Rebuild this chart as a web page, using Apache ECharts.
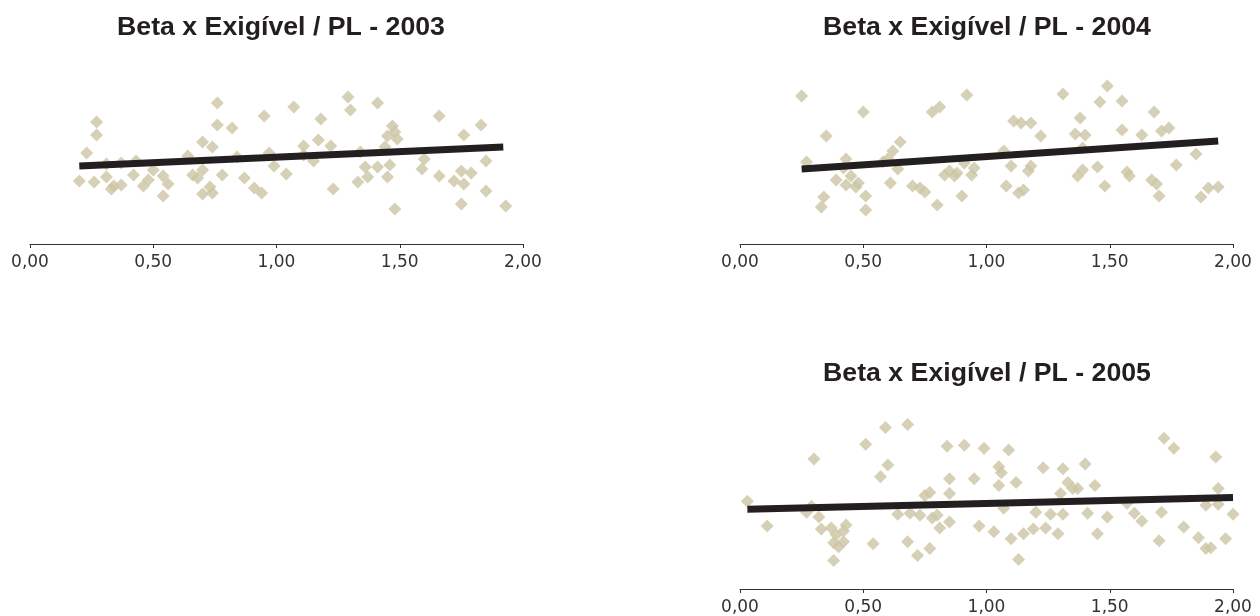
<!DOCTYPE html>
<html>
<head>
<meta charset="utf-8">
<script src="https://cdn.jsdelivr.net/npm/echarts@6/dist/echarts.min.js"></script>
<style>
html,body{margin:0;padding:0;background:#fff;}
#chart{width:1260px;height:616px;}
</style>
</head>
<body>
<div id="chart"></div>
<script>
// Tick labels of the x axis
const xTicks = [0, 0.5, 1, 1.5, 2];
const titles = ['Beta x Exigível / PL - 2003', 'Beta x Exigível / PL - 2004', 'Beta x Exigível / PL - 2005'];

// 2003: beta (x) and Exigível / PL (y, arbitrary units)
const beta2003 = [0.20,0.23,0.27,0.27,0.26,0.31,0.31,0.33,0.34,0.37,0.37,0.42,0.43,0.46,0.48,0.50,0.54,0.56,0.54,0.64,
  0.66,0.68,0.70,0.70,0.74,0.70,0.73,0.74,0.76,0.76,0.78,0.82,0.84,0.87,0.91,0.94,0.95,0.97,0.99,1.04,
  1.07,1.11,1.11,1.15,1.17,1.18,1.22,1.23,1.29,1.30,1.33,1.34,1.36,1.37,1.41,1.41,1.44,1.45,1.46,1.45,
  1.47,1.48,1.49,1.48,1.59,1.60,1.66,1.66,1.72,1.75,1.76,1.75,1.76,1.79,1.83,1.85,1.85,1.93];
const exig2003 = [6.3,9.1,12.2,10.9,6.2,8.0,6.7,5.5,5.8,5.9,8.1,6.9,8.3,5.8,6.4,7.4,6.8,6.0,4.8,8.8,
  6.9,6.6,7.4,10.2,9.7,5.0,5.7,5.1,14.1,11.9,6.9,11.6,8.7,6.6,5.6,5.1,12.8,9.1,7.8,7.0,
  13.7,9.8,8.9,8.3,10.4,12.5,9.8,5.5,14.7,13.4,6.2,9.2,7.7,6.7,7.7,14.1,9.7,6.7,7.9,10.8,
  11.8,11.2,10.5,3.5,7.5,8.5,6.8,12.8,6.3,7.3,6.0,4.0,10.9,7.1,11.9,8.3,5.3,3.8];
const trendX2003 = [0.20, 1.92];
const trendY2003 = [7.8, 9.7];

// 2004
const beta2004 = [0.25,0.27,0.35,0.34,0.33,0.39,0.43,0.43,0.42,0.45,0.47,0.48,0.50,0.51,0.51,0.58,0.61,0.62,0.65,0.64,
  0.60,0.70,0.73,0.75,0.78,0.81,0.80,0.83,0.85,0.87,0.88,0.90,0.91,0.92,0.94,0.95,1.07,1.10,1.08,1.11,
  1.14,1.18,1.13,1.15,1.18,1.17,1.22,1.31,1.38,1.36,1.40,1.39,1.37,1.39,1.45,1.46,1.48,1.49,1.55,1.55,
  1.57,1.58,1.63,1.68,1.67,1.69,1.70,1.71,1.74,1.77,1.85,1.87,1.90,1.94];
const exig2004 = [14.8,8.2,10.8,4.7,3.7,6.4,5.9,8.5,7.6,6.8,5.7,6.1,13.2,4.8,3.4,8.2,6.1,9.3,10.2,7.5,
  8.5,5.8,5.6,5.2,13.2,13.7,3.9,6.9,7.3,6.8,7.1,4.8,8.1,14.9,6.9,7.6,9.3,7.8,5.8,12.3,
  12.1,12.1,5.1,5.4,7.8,7.3,10.8,15.0,12.6,11.0,10.9,9.6,6.8,7.4,7.7,14.2,5.8,15.8,14.3,11.4,
  7.2,6.8,10.9,13.2,6.4,6.0,4.8,11.3,11.6,7.9,9.0,4.7,5.6,5.7];
const trendX2004 = [0.25, 1.94];
const trendY2004 = [7.5, 10.3];

// 2005
const beta2005 = [0.03,0.11,0.30,0.27,0.29,0.32,0.33,0.37,0.39,0.38,0.40,0.42,0.42,0.43,0.38,0.51,0.54,0.57,0.59,0.60,
  0.64,0.68,0.68,0.69,0.72,0.73,0.75,0.77,0.77,0.78,0.80,0.81,0.84,0.85,0.85,0.85,0.91,0.95,0.97,0.99,
  1.03,1.05,1.06,1.05,1.07,1.09,1.12,1.10,1.13,1.15,1.19,1.20,1.23,1.24,1.26,1.29,1.30,1.31,1.31,1.33,
  1.35,1.37,1.40,1.41,1.44,1.45,1.49,1.57,1.60,1.63,1.70,1.71,1.72,1.76,1.80,1.86,1.89,1.91,1.89,1.93,
  1.94,1.94,1.97,2.00];
const exig2005 = [8.9,6.4,13.2,7.8,8.4,7.3,6.1,6.2,5.5,4.7,4.3,4.8,5.9,6.5,2.9,14.7,4.6,11.4,16.4,12.6,
  7.6,4.8,16.7,7.7,3.4,7.5,9.5,9.8,4.1,7.2,7.5,6.2,14.5,9.7,11.2,6.8,14.6,11.2,6.4,14.3,
  5.8,12.4,11.8,10.5,8.2,14.1,10.8,5.1,3.0,5.6,6.1,7.8,12.3,6.2,7.6,5.6,9.7,12.2,7.6,10.8,
  10.2,10.2,12.7,7.7,10.5,5.6,7.3,8.7,7.7,6.9,4.9,7.8,15.3,14.3,6.3,5.2,4.1,4.2,8.5,13.4,
  10.2,8.6,5.1,7.6];
const trendX2005 = [0.03, 2.00];
const trendY2005 = [8.1, 9.3];

const zip = (a, b) => a.map((v, i) => [v, b[i]]);

const panels = [
  {left: 30, top: 44, bx: beta2003, ey: exig2003, tx: trendX2003, ty: trendY2003, titleX: 281, titleY: 14},
  {left: 740, top: 44, bx: beta2004, ey: exig2004, tx: trendX2004, ty: trendY2004, titleX: 987, titleY: 14},
  {left: 740, top: 392, bx: beta2005, ey: exig2005, tx: trendX2005, ty: trendY2005, titleX: 987, titleY: 360}
];

const chart = echarts.init(document.getElementById('chart'), null, {renderer: 'canvas'});

const option = {
  backgroundColor: '#ffffff',
  animation: false,
  title: panels.map((p, i) => ({
    text: titles[i],
    left: p.titleX,
    top: p.titleY,
    textAlign: 'center',
    padding: 0,
    textStyle: {fontFamily: 'Liberation Sans', fontWeight: 'bold', fontSize: 26.7, color: '#231f20'}
  })),
  grid: panels.map(p => ({left: p.left, top: p.top, width: 493, height: 200, containLabel: false})),
  xAxis: panels.map((p, i) => ({
    type: 'value', gridIndex: i, min: xTicks[0], max: xTicks[xTicks.length - 1], interval: 0.5,
    axisLine: {show: true, lineStyle: {color: '#333', width: 1}},
    axisTick: {show: true, length: 4, lineStyle: {color: '#333'}},
    splitLine: {show: false},
    axisLabel: {
      margin: 10, color: '#333', fontFamily: 'DejaVu Sans', fontSize: 17,
      formatter: v => v.toFixed(2).replace('.', ',')
    }
  })),
  yAxis: panels.map((p, i) => ({
    type: 'value', gridIndex: i, min: 0, max: 20, show: false, splitLine: {show: false}
  })),
  series: panels.flatMap((p, i) => [
    {
      type: 'scatter', xAxisIndex: i, yAxisIndex: i, z: 2,
      symbol: 'diamond', symbolSize: 13,
      itemStyle: {color: '#ccc5a4'},
      data: zip(p.bx, p.ey)
    },
    {
      type: 'line', xAxisIndex: i, yAxisIndex: i, z: 5,
      symbol: 'none', silent: true,
      lineStyle: {color: '#231f20', width: 7, cap: 'butt'},
      data: zip(p.tx, p.ty)
    }
  ])
};
chart.setOption(option);
</script>
</body>
</html>
